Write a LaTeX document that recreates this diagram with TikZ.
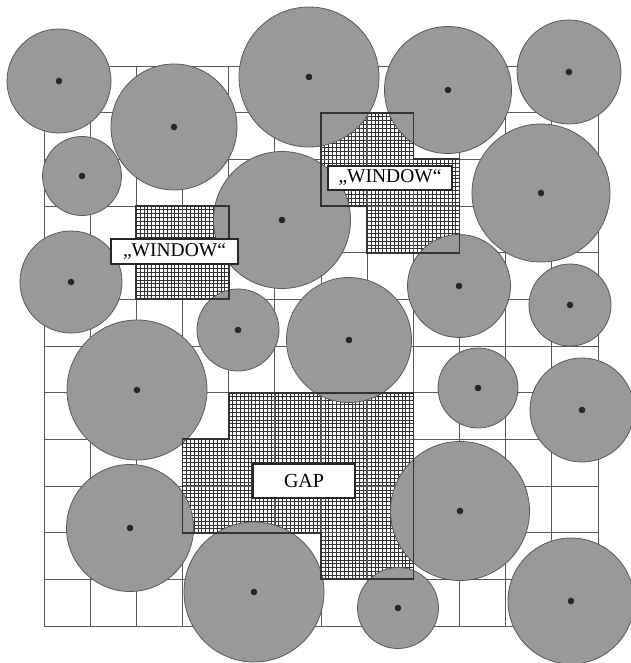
\documentclass[tikz,border=0pt]{standalone}
\usepackage{fontspec}
\setmainfont{Liberation Serif}
\definecolor{treefill}{gray}{0.6}
\definecolor{treeedge}{gray}{0.35}
\definecolor{gridcol}{gray}{0.35}
\begin{document}
\begin{tikzpicture}[x=1pt,y=-1pt,
  tree/.style={circle,inner sep=0pt,fill=treefill,draw=treeedge,line width=0.8pt},
  trunk/.style={fill=black!85},
  lbl/.style={draw=black!85,line width=1.4pt,fill=white,inner sep=0pt,font=\fontsize{19.5}{21}\selectfont},
  outline/.style={draw=black!80,line width=1.8pt},
  hatch/.style={draw=black!80,line width=0.8pt},
  gridline/.style={draw=gridcol,line width=0.8pt},
  gridthick/.style={draw=black!70,line width=1.6pt}]
\useasboundingbox (0,0) rectangle (630,663);
\fill[white] (0,0) rectangle (630,663);
% hatched regions
\def\wone{(136.3,206) -- (228.7,206) -- (228.7,299.3) -- (136.3,299.3) -- cycle}
\def\wtwo{(321,112.7) -- (413.4,112.7) -- (413.4,159.3) -- (459.5,159.3) -- (459.5,252.7) -- (367.2,252.7) -- (367.2,206) -- (321,206) -- cycle}
\def\gap{(228.7,392.7) -- (413.4,392.7) -- (413.4,579.3) -- (321,579.3) -- (321,532.7) -- (182.5,532.7) -- (182.5,439.3) -- (228.7,439.3) -- cycle}
\begin{scope}
  \clip \wone;
  \foreach \x in {136.3,140.15,...,230} \draw[hatch] (\x,200) -- (\x,305);
  \foreach \y in {206,209.89,...,300} \draw[hatch] (130,\y) -- (235,\y);
  \foreach \i in {0,...,12} {
    \draw[gridthick] ({44+\i*46.1667},66) -- ({44+\i*46.1667},626);
    \draw[gridthick] (44,{66+\i*46.6667}) -- (598,{66+\i*46.6667});}
\end{scope}
\begin{scope}
  \clip \wtwo;
  \foreach \x in {321,324.85,...,461} \draw[hatch] (\x,105) -- (\x,260);
  \foreach \y in {112.7,116.59,...,254} \draw[hatch] (315,\y) -- (465,\y);
  \foreach \i in {0,...,12} {
    \draw[gridthick] ({44+\i*46.1667},66) -- ({44+\i*46.1667},626);
    \draw[gridthick] (44,{66+\i*46.6667}) -- (598,{66+\i*46.6667});}
\end{scope}
\begin{scope}
  \clip \gap;
  \foreach \x in {182.5,186.35,...,415} \draw[hatch] (\x,385) -- (\x,585);
  \foreach \y in {392.7,396.59,...,581} \draw[hatch] (175,\y) -- (420,\y);
  \foreach \i in {0,...,12} {
    \draw[gridthick] ({44+\i*46.1667},66) -- ({44+\i*46.1667},626);
    \draw[gridthick] (44,{66+\i*46.6667}) -- (598,{66+\i*46.6667});}
\end{scope}
% grid
\foreach \i in {0,...,12} {
  \draw[gridline] ({44+\i*46.1667},66) -- ({44+\i*46.1667},626);
  \draw[gridline] (44,{66+\i*46.6667}) -- (598,{66+\i*46.6667});
}
% trees
\foreach \n/\x/\y/\r in {
  t1/59/81/52, t2/174/127/63, t3/82/176/39.5, t4/71/282/51,
  t5/309/77/70, t6/448/90/63.5, t7/569/72/52, t8/541/193/69,
  t9/282/220/68.5, t10/459/286/51.5, t11/570/305/41, t12/238/330/41,
  t13/349/340/62.5, t14/137/390/70, t15/478/388/40, t16/582/410/52,
  t17/460/511/69.5, t18/130/528/63.5, t19/254/592/70, t20/398/608/40.5,
  t21/571/601/63} {
  \node[tree,minimum size=2*\r pt] (\n) at (\x,\y) {};
  \fill[trunk] (\n.center) circle (3.3pt);
}
% outlines of hatched regions
\draw[outline] \wone;
\draw[outline] \wtwo;
\draw[outline] \gap;
% labels
\node[lbl,minimum width=127pt,minimum height=25pt] (lw1) at (174.5,251.5) {„WINDOW“};
\node[lbl,minimum width=124pt,minimum height=24pt] (lw2) at (390,178) {„WINDOW“};
\node[lbl,minimum width=102pt,minimum height=34pt,font=\fontsize{20}{22}\selectfont] (lgap) at (304,481) {GAP};
\end{tikzpicture}
\end{document}
